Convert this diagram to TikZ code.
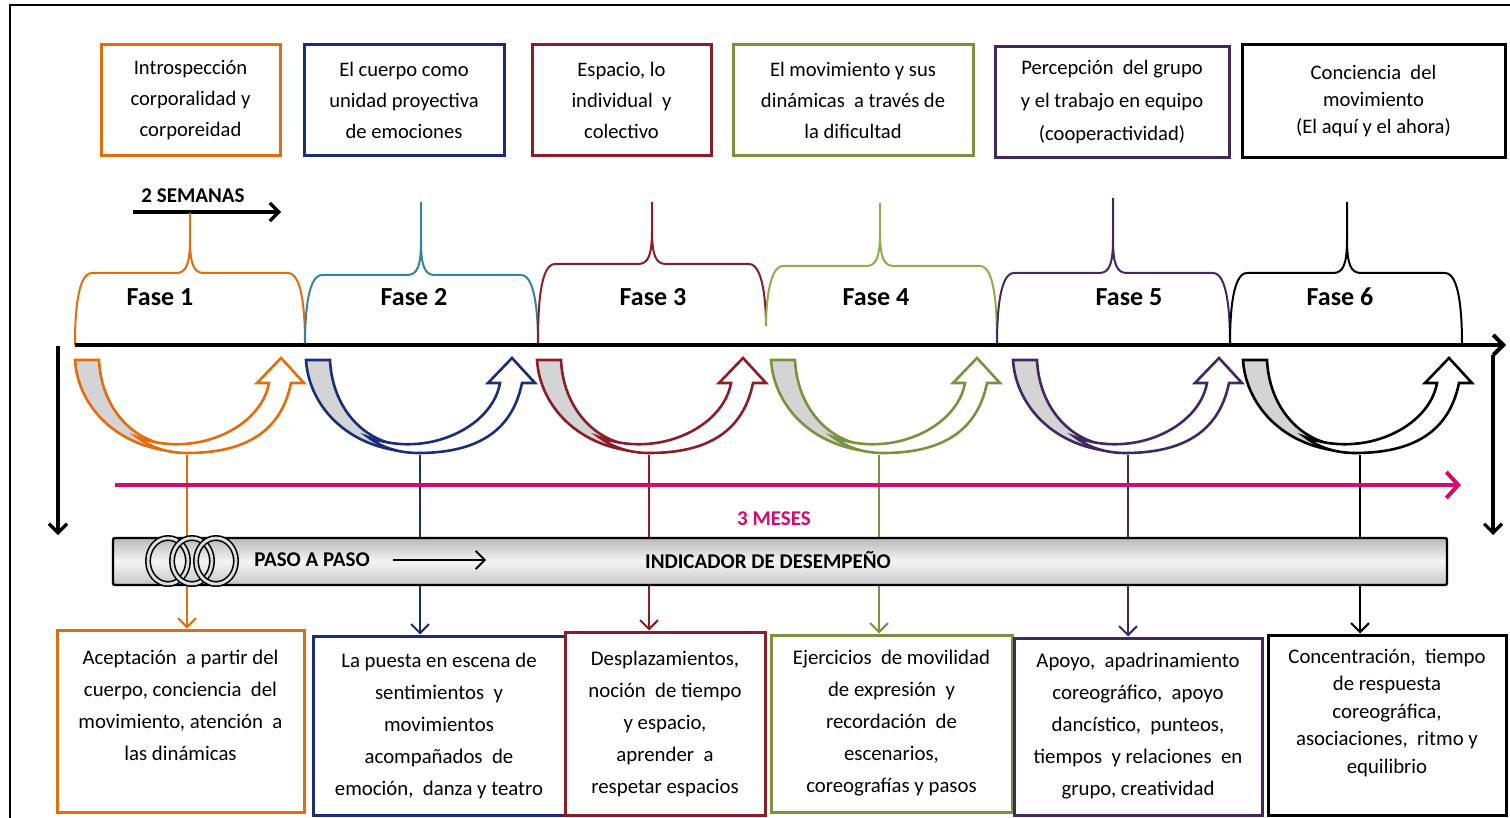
\documentclass[tikz,border=0pt]{standalone}
\usepackage{fontspec}
\setmainfont{Carlito}
\usetikzlibrary{arrows.meta,shapes.geometric}
\definecolor{corange}{RGB}{228,108,10}
\definecolor{cblue}{RGB}{25,45,120}
\definecolor{cteal}{RGB}{49,133,156}
\definecolor{cred}{RGB}{140,28,38}
\definecolor{cgreen}{RGB}{119,147,60}
\definecolor{cgreenlt}{RGB}{140,175,75}
\definecolor{cpurple}{RGB}{64,40,100}
\definecolor{cpink}{RGB}{214,10,110}
\definecolor{cgrayband}{RGB}{212,212,212}
% brace: color, xL, xR, xMid, yHoriz, yTip, yBottomLeft, yBottomRight
\newcommand\phasebrace[8]{%
  \draw[#1, line width=1pt]
    (#2,#7) .. controls (#2,#5+50) and (#2+1,#5) .. (#2+17,#5)
    -- (#4-14,#5) .. controls (#4-4,#5) and (#4,#5-8) .. (#4,#5-34)
    -- (#4,#6);
  \draw[#1, line width=1pt]
    (#4,#5-34) .. controls (#4,#5-8) and (#4+4,#5) .. (#4+14,#5)
    -- (#3-17,#5) .. controls (#3-1,#5) and (#3,#5+50) .. (#3,#8);}
% curved U arrow: color, x0
\newcommand\uturnshape[2]{%
  \begin{scope}[shift={(#2,360)}]
    \draw[#1, line width=1.3pt, fill=cgrayband]
      (0,0) -- (24,0) .. controls (26,42) and (50,72) .. (80,82)
      .. controls (95,87) and (105,90) .. (112,92)
      .. controls (45,92) and (3,48) .. (0,0) -- cycle;
    \draw[#1, line width=1.3pt, fill=white, line join=miter]
      (62,77) .. controls (120,99) and (186,68) .. (194,23)
      -- (182,23) -- (206,-2) -- (229,23) -- (216,23)
      .. controls (206,72) and (170,93) .. (112,93)
      .. controls (92,93) and (75,87) .. (62,77) -- cycle;
  \end{scope}}
\begin{document}
\begin{tikzpicture}[x=0.5pt,y=-0.5pt,
  topbox/.style={draw, line width=1.5pt, fill=white, inner sep=0pt, align=center,
    font=\fontsize{10.3}{15.5}\selectfont},
  botbox/.style={draw, line width=1.5pt, fill=white, inner sep=0pt, align=center,
    font=\fontsize{10.4}{16}\selectfont},
  fase/.style={font=\fontsize{13}{15}\selectfont\bfseries},
  boldlbl/.style={font=\fontsize{10.5}{12}\selectfont\bfseries, inner sep=0pt},
  barb/.style={-{Straight Barb[length=4.5pt,width=9pt]}},
  conn/.style={line width=1pt, barb},
  ring/.style={ellipse, draw, line width=0.8pt, double=gray!25, double distance=1.4pt,
    minimum width=20pt, minimum height=23pt, inner sep=0pt}
]
\useasboundingbox (0,0) rectangle (1510,818);
% frame
\draw[line width=1pt] (10,818) -- (10,5) -- (1510,5);

% top boxes
\node[topbox, draw=corange, minimum width=89.5pt, minimum height=55.5pt] (t1) at (190.5,100.5)
  {Introspección\\ corporalidad y\\ corporeidad};
\node[topbox, draw=cblue, minimum width=100pt, minimum height=55.5pt] (t2) at (404,100.5)
  {El cuerpo como\\ unidad proyectiva\\ de emociones};
\node[topbox, draw=cred, minimum width=89.5pt, minimum height=55.5pt] (t3) at (621.5,100.5)
  {Espacio, lo\\ individual\ \ y\\ colectivo};
\node[topbox, draw=cgreen, minimum width=120pt, minimum height=55.5pt] (t4) at (853,100.5)
  {El movimiento y sus\\ dinámicas\ \ a través de\\ la dificultad};
\node[topbox, draw=cpurple, minimum width=117pt, minimum height=55.5pt, font=\fontsize{10.3}{16.5}\selectfont] (t5) at (1112,102.5)
  {Percepción\ \ del grupo\\ y el trabajo en equipo\\ (cooperactividad)};
\node[topbox, draw=black, minimum width=131.5pt, minimum height=56.5pt, font=\fontsize{10.3}{13.5}\selectfont] (t6) at (1373.5,101.5)
  {Conciencia\ \ del\\ movimiento\\ (El aquí y el ahora)};

% 2 semanas
\node[boldlbl] (sem) at (193,196) {2\ SEMANAS};
\coordinate (sa) at (133,212);
\coordinate (sb) at (281,212);
\draw[line width=1.6pt, barb] (sa) -- (sb);

% braces
\phasebrace{corange}{75}{305}{190}{273}{213}{345}{345}
\phasebrace{cteal}{305}{538}{421}{275}{202}{345}{345}
\phasebrace{cred}{538}{766}{652}{264}{202}{345}{326}
\phasebrace{cgreenlt}{766}{997}{880}{266}{203}{326}{345}
\phasebrace{cpurple}{997}{1230}{1113}{273}{198}{345}{345}
\phasebrace{black}{1230}{1462}{1347}{273}{202}{345}{345}

\node[fase] (f1) at (160,297) {Fase 1};
\node[fase] (f2) at (414,297) {Fase 2};
\node[fase] (f3) at (653,297) {Fase 3};
\node[fase] (f4) at (876,297) {Fase 4};
\node[fase] (f5) at (1129,297) {Fase 5};
\node[fase] (f6) at (1340,297) {Fase 6};

% main axis
\coordinate (ax0) at (75,345);
\coordinate (ax1) at (1506,345);
\draw[line width=2pt, -{Straight Barb[length=5pt,width=10pt]}] (ax0) -- (ax1);

% side arrows
\coordinate (la0) at (58,346);
\coordinate (la1) at (58,535);
\draw[line width=1.6pt, barb] (la0) -- (la1);
\coordinate (ra0) at (1493,355);
\coordinate (ra1) at (1493,535);
\draw[line width=1.6pt, barb] (ra0) -- (ra1);

% U arrows
\uturnshape{corange}{75}
\uturnshape{cblue}{306}
\uturnshape{cred}{537}
\uturnshape{cgreen}{771}
\uturnshape{cpurple}{1013}
\uturnshape{black}{1243}

% bottom boxes
\node[botbox, draw=corange, minimum width=123.5pt, minimum height=91pt] (b1) at (180.5,721)
  {Aceptación\ \ a partir del\\ cuerpo, conciencia\ \ del\\ movimiento, atención\ \ a\\ las dinámicas\\ \mbox{}};
\node[botbox, draw=cblue, minimum width=126pt, minimum height=89.5pt] (b2) at (439,725.5)
  {La puesta en escena de\\ sentimientos\ \ y\\ movimientos\\ acompañados\ \ de\\ emoción,\ \ danza y teatro};
\node[botbox, draw=cred, minimum width=100pt, minimum height=91.5pt] (b3) at (665,723.5)
  {Desplazamientos,\\ noción\ \ de tiempo\\ y espacio,\\ aprender\ \ a\\ respetar espacios};
\node[botbox, draw=cgreen, minimum width=120.5pt, minimum height=88.5pt] (b4) at (891.5,723.5)
  {Ejercicios\ \ de movilidad\\ de expresión\ \ y\\ recordación\ \ de\\ escenarios,\\ coreografías y pasos};
\node[botbox, draw=cpurple, minimum width=124pt, minimum height=88.5pt] (b5) at (1138,726.5)
  {Apoyo,\ \ apadrinamiento\\ coreográfico,\ \ apoyo\\ dancístico,\ \ punteos,\\ tiempos\ \ y relaciones\ \ en\\ grupo, creatividad};
\node[botbox, draw=black, minimum width=119pt, minimum height=90pt, font=\fontsize{10.4}{13.75}\selectfont] (b6) at (1387,725)
  {Concentración,\ \ tiempo\\ de respuesta\\ coreográfica,\\ asociaciones,\ \ ritmo y\\ equilibrio\\ \mbox{}};

% connectors from U arrows to bottom boxes
\coordinate (u1) at (187,455);
\coordinate (u2) at (420,455);
\coordinate (u3) at (649,455);
\coordinate (u4) at (879,455);
\coordinate (u5) at (1128,455);
\coordinate (u6) at (1360,455);
\draw[conn, corange] (u1) -- (u1 |- b1.north);
\draw[conn, cblue] (u2) -- (u2 |- b2.north);
\draw[conn, cred] (u3) -- (u3 |- b3.north);
\draw[conn, cgreen] (u4) -- (u4 |- b4.north);
\draw[conn, cpurple] (u5) -- (u5 |- b5.north);
\draw[conn, black] (u6) -- (u6 |- b6.north);

% pink 3 months arrow
\coordinate (p0) at (115,485);
\coordinate (p1) at (1461,485);
\draw[cpink, line width=2pt, -{Straight Barb[length=6pt,width=13pt]}] (p0) -- (p1);
\node[boldlbl, text=cpink] (mes) at (774,519) {3 MESES};

% indicator bar
\node[draw, line width=1.2pt, rounded corners=1pt, minimum width=667pt, minimum height=23.5pt,
  top color=gray!55, bottom color=gray!45, middle color=gray!8, inner sep=0pt] (bar) at (780,561.5) {};
\node[ring] (r1) at (168,561) {};
\node[ring] (r2) at (192,561) {};
\node[ring] (r3) at (216,561) {};
\node[boldlbl] (paso) at (312,560) {PASO A PASO};
\coordinate (pa0) at (393,560);
\coordinate (pa1) at (486,560);
\draw[line width=0.9pt, barb] (pa0) -- (pa1);
\node[boldlbl] (ind) at (768,560) {INDICADOR DE DESEMPEÑO};
\end{tikzpicture}
\end{document}
